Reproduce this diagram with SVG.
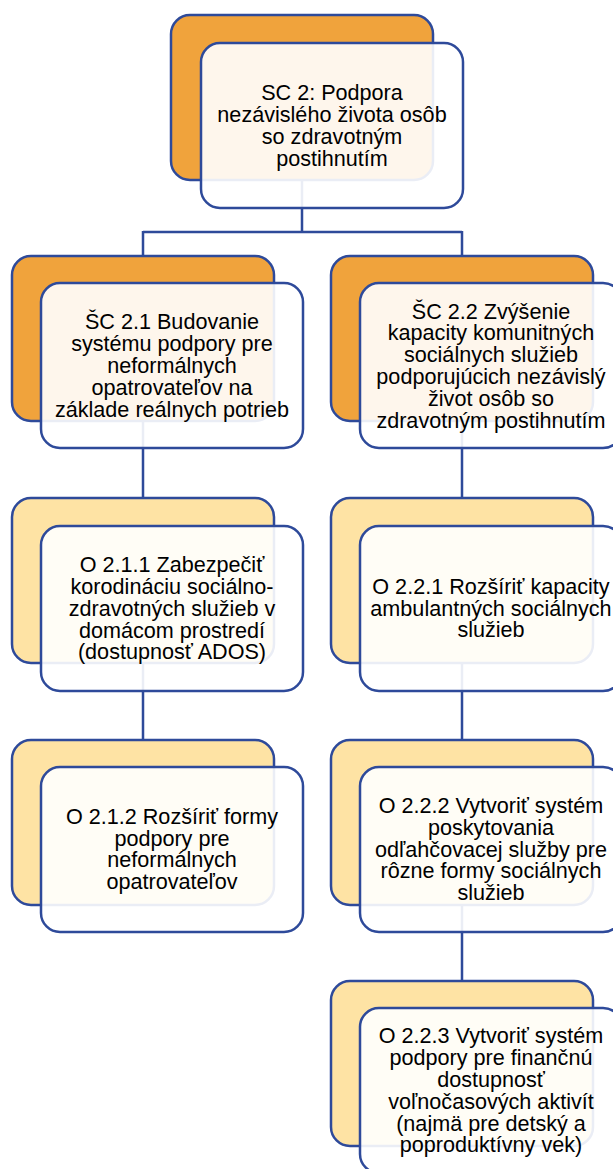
<svg xmlns="http://www.w3.org/2000/svg" width="613" height="1169" viewBox="0 0 613 1169">
<style>
.back{stroke:#2E4A9A;stroke-width:2.5}
.o{fill:#F0A33C}
.y{fill:#FEE3A4}
.front{fill:#FFFFFF;fill-opacity:0.9;stroke:#2E4A9A;stroke-width:2.5}
.t{font-family:"Liberation Sans",Arial,sans-serif;font-size:21.6px;fill:#000;text-anchor:middle}
.c{fill:none;stroke:#2E4A9A;stroke-width:2.5}
</style>
<rect width="613" height="1169" fill="#FFFFFF"/>
<g id="connectors">
<path class="c" d="M302 180 V232 M143 232 H462 M143 231 V257 M462 231 V257"/>
<path class="c" d="M143 421 V499 M143 663 V741"/>
<path class="c" d="M462 421 V499 M462 663 V741 M462 905 V982"/>
</g>
<g id="sc2">
<rect class="back o" x="171" y="15" width="262" height="165" rx="19"/>
<rect class="front" x="201" y="43" width="262" height="165" rx="19"/>
<text class="t" y="100.3"><tspan x="332">SC 2: Podpora</tspan><tspan x="332" dy="21.8">nezávislého života osôb</tspan><tspan x="332" dy="21.8">so zdravotným</tspan><tspan x="332" dy="21.8">postihnutím</tspan></text>
</g>
<g id="sc21">
<rect class="back o" x="12" y="256" width="262" height="165" rx="19"/>
<rect class="front" x="41" y="283" width="262" height="165" rx="19"/>
<text class="t" y="329.4"><tspan x="172">ŠC 2.1 Budovanie</tspan><tspan x="172" dy="21.8">systému podpory pre</tspan><tspan x="172" dy="21.8">neformálnych</tspan><tspan x="172" dy="21.8">opatrovateľov na</tspan><tspan x="172" dy="21.8">základe reálnych potrieb</tspan></text>
</g>
<g id="sc22">
<rect class="back o" x="331" y="256" width="262" height="165" rx="19"/>
<rect class="front" x="360" y="283" width="262" height="165" rx="19"/>
<text class="t" y="318.5"><tspan x="491">ŠC 2.2 Zvýšenie</tspan><tspan x="491" dy="21.8">kapacity komunitných</tspan><tspan x="491" dy="21.8">sociálnych služieb</tspan><tspan x="491" dy="21.8">podporujúcich nezávislý</tspan><tspan x="491" dy="21.8">život osôb so</tspan><tspan x="491" dy="21.8">zdravotným postihnutím</tspan></text>
</g>
<g id="o211">
<rect class="back y" x="12" y="498" width="262" height="165" rx="19"/>
<rect class="front" x="41" y="526" width="262" height="165" rx="19"/>
<text class="t" y="572.2"><tspan x="172">O 2.1.1 Zabezpečiť</tspan><tspan x="172" dy="21.8">korodináciu sociálno-</tspan><tspan x="172" dy="21.8">zdravotných služieb v</tspan><tspan x="172" dy="21.8">domácom prostredí</tspan><tspan x="172" dy="21.8">(dostupnosť ADOS)</tspan></text>
</g>
<g id="o221">
<rect class="back y" x="331" y="498" width="262" height="165" rx="19"/>
<rect class="front" x="360" y="526" width="262" height="165" rx="19"/>
<text class="t" y="593.8"><tspan x="491">O 2.2.1 Rozšíriť kapacity</tspan><tspan x="491" dy="21.8">ambulantných sociálnych</tspan><tspan x="491" dy="21.8">služieb</tspan></text>
</g>
<g id="o212">
<rect class="back y" x="12" y="740" width="262" height="165" rx="19"/>
<rect class="front" x="41" y="767" width="262" height="165" rx="19"/>
<text class="t" y="823.8"><tspan x="172">O 2.1.2 Rozšíriť formy</tspan><tspan x="172" dy="21.8">podpory pre</tspan><tspan x="172" dy="21.8">neformálnych</tspan><tspan x="172" dy="21.8">opatrovateľov</tspan></text>
</g>
<g id="o222">
<rect class="back y" x="331" y="740" width="262" height="165" rx="19"/>
<rect class="front" x="360" y="767" width="262" height="165" rx="19"/>
<text class="t" y="813"><tspan x="491">O 2.2.2 Vytvoriť systém</tspan><tspan x="491" dy="21.8">poskytovania</tspan><tspan x="491" dy="21.8">odľahčovacej služby pre</tspan><tspan x="491" dy="21.8">rôzne formy sociálnych</tspan><tspan x="491" dy="21.8">služieb</tspan></text>
</g>
<g id="o223">
<rect class="back y" x="331" y="981" width="262" height="165" rx="19"/>
<rect class="front" x="360" y="1008" width="262" height="165" rx="19"/>
<text class="t" y="1043.4"><tspan x="491">O 2.2.3 Vytvoriť systém</tspan><tspan x="491" dy="21.8">podpory pre finančnú</tspan><tspan x="491" dy="21.8">dostupnosť</tspan><tspan x="491" dy="21.8">voľnočasových aktivít</tspan><tspan x="491" dy="21.8">(najmä pre detský a</tspan><tspan x="491" dy="21.8">poproduktívny vek)</tspan></text>
</g>
</svg>
